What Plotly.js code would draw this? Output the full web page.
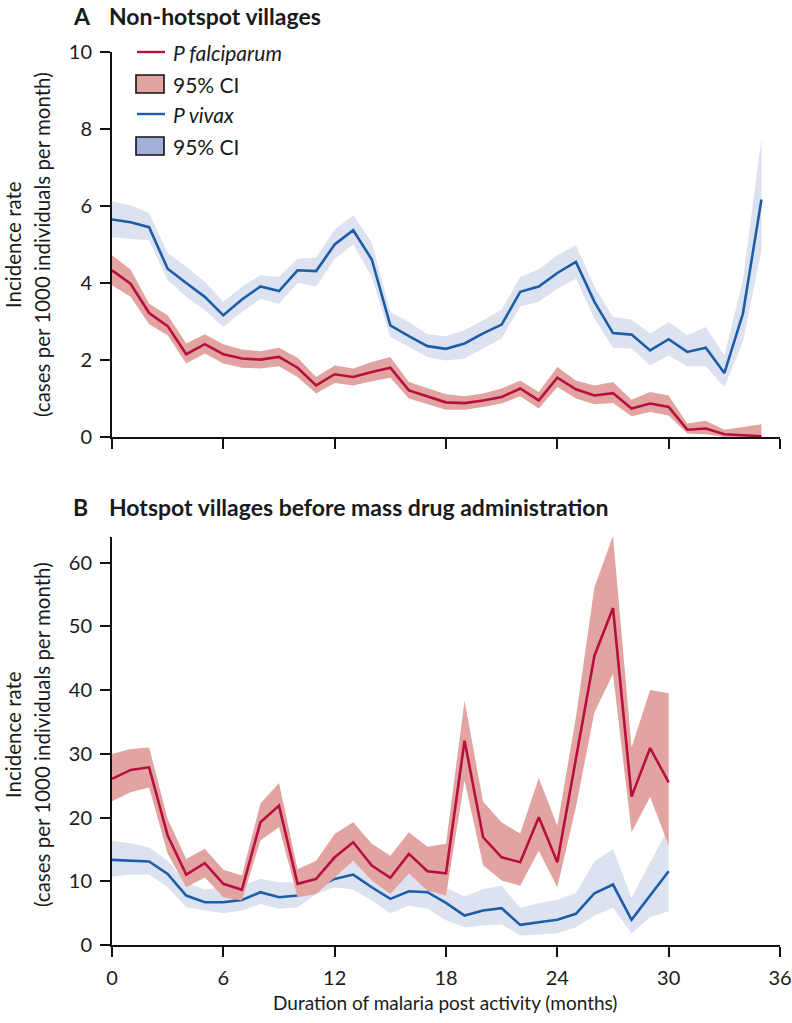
<!DOCTYPE html>
<html>
<head>
<meta charset="utf-8">
<script src="https://cdn.plot.ly/plotly-3.0.1.min.js"></script>
<style>html,body{margin:0;padding:0;background:#fff;}</style>
</head>
<body>
<div id="chart" style="width:792px;height:1023px;"></div>
<script>
// ---------- data ----------
const monthsA = [0,1,2,3,4,5,6,7,8,9,10,11,12,13,14,15,16,17,18,19,20,21,22,23,24,25,26,27,28,29,30,31,32,33,34,35];
const pfA    = [4.33,3.98,3.22,2.88,2.15,2.41,2.15,2.04,2.01,2.08,1.80,1.34,1.63,1.56,1.69,1.80,1.21,1.06,0.90,0.88,0.95,1.04,1.26,0.95,1.54,1.24,1.08,1.14,0.74,0.87,0.78,0.19,0.22,0.07,0.04,0.02];
const pfA_hi = [4.72,4.35,3.46,3.16,2.43,2.67,2.41,2.27,2.23,2.32,2.06,1.56,1.86,1.78,1.95,2.08,1.43,1.26,1.11,1.06,1.13,1.26,1.47,1.17,1.82,1.47,1.34,1.43,0.97,1.17,1.08,0.35,0.42,0.19,0.26,0.33];
const pfA_lo = [3.94,3.64,2.93,2.64,1.91,2.17,1.91,1.80,1.78,1.84,1.56,1.13,1.40,1.34,1.45,1.54,1.00,0.85,0.71,0.71,0.78,0.87,1.06,0.74,1.30,1.00,0.85,0.88,0.54,0.65,0.56,0.09,0.07,0,0,0];
const pvA    = [5.65,5.58,5.45,4.37,4.00,3.64,3.16,3.57,3.91,3.79,4.33,4.31,5.00,5.37,4.61,2.90,2.62,2.36,2.29,2.43,2.69,2.92,3.77,3.91,4.26,4.55,3.51,2.70,2.66,2.25,2.54,2.21,2.32,1.66,3.20,6.17];
const pvA_hi = [6.12,6.02,5.82,4.78,4.42,4.03,3.51,3.90,4.20,4.16,4.63,4.66,5.39,5.76,5.06,3.25,2.99,2.67,2.62,2.77,3.03,3.31,4.16,4.35,4.72,4.98,3.91,3.12,3.05,2.69,2.99,2.64,2.86,2.12,4.07,7.75];
const pvA_lo = [5.19,5.15,5.11,4.07,3.64,3.29,2.86,3.25,3.59,3.46,4.00,3.91,4.63,5.00,4.16,2.60,2.34,2.08,1.99,2.04,2.30,2.56,3.39,3.51,3.85,4.11,3.08,2.32,2.30,1.86,2.12,1.84,1.84,1.30,2.47,4.85];

const monthsB = [0,1,2,3,4,5,6,7,8,9,10,11,12,13,14,15,16,17,18,19,20,21,22,23,24,25,26,27,28,29,30];
const pfB    = [26.05,27.46,27.87,17.16,11.05,12.83,9.59,8.65,19.25,21.86,9.59,10.37,13.76,16.11,12.46,10.53,14.29,11.57,11.25,32.05,16.9,13.76,12.98,20.03,12.98,28.92,45.38,52.85,23.28,30.9,25.52];
const pfB_hi = [29.97,30.75,31.0,19.78,13.5,15.08,11.79,10.9,22.2,25.4,11.9,13.2,17.4,19.25,15.9,14.0,17.7,15.4,15.9,38.3,22.5,19.2,17.5,26.2,18.7,35.7,56.1,64.2,31.0,40.0,39.5];
const pfB_lo = [22.54,23.95,24.7,14.3,9.06,10.6,7.5,6.97,16.4,18.5,7.5,8.0,10.6,13.2,10.1,8.0,11.2,8.5,7.76,25.8,12.5,10.1,9.3,14.8,9.06,21.6,36.5,42.5,17.7,23.2,15.6];
const pvB    = [13.35,13.24,13.1,11.16,7.76,6.71,6.71,7.08,8.28,7.5,7.76,9.06,10.37,11.05,9.06,7.24,8.43,8.28,6.6,4.62,5.41,5.77,3.16,3.57,3.95,4.89,8.12,9.48,3.95,7.76,11.57];
const pvB_hi = [16.3,15.96,15.3,13.2,9.85,8.65,9.06,9.3,10.4,9.85,9.85,11.2,12.2,13.1,11.4,9.6,11.2,10.4,9.0,7.6,8.8,9.3,5.83,6.55,7.08,8.12,13.1,15.08,7.4,13.0,18.5];
const pvB_lo = [10.7,11.05,11.05,9.06,5.93,5.41,4.98,5.41,6.45,5.67,5.93,8.0,9.06,8.65,6.97,4.98,6.19,5.67,3.9,2.8,3.06,3.2,1.49,1.65,1.85,2.8,4.62,5.83,1.85,4.36,5.3];

const xTicks  = [0,6,12,18,24,30,36];
const yTicksA = [0,2,4,6,8,10];
const yTicksB = [0,10,20,30,40,50,60];

const panelTitles = ["Non-hotspot villages", "Hotspot villages before mass drug administration"];
const panelLetters = ["A", "B"];
const yTitle1 = "Incidence rate";
const yTitle2 = "(cases per 1000 individuals per month)";
const xTitle = "Duration of malaria post activity (months)";
const legendLabels = ["<i>P falciparum</i>", "95% CI", "<i>P vivax</i>", "95% CI"];

// ---------- styles ----------
const RED = '#b8103e', RED_BAND = '#e2a4a1';
const BLUE = '#1b5ea7', BLUE_BAND = 'rgba(162,176,216,0.36)', BLUE_KEY = '#a2b0d8';
const FONT = 'Lato, "Open Sans", sans-serif';
const TXT = '#1a1a1a';

function band(x, lo, hi, color, xa, ya) {
  return [
    {x: x, y: lo, xaxis: xa, yaxis: ya, mode: 'lines', line: {width: 0, color: color}, hoverinfo: 'skip', showlegend: false},
    {x: x, y: hi, xaxis: xa, yaxis: ya, mode: 'lines', line: {width: 0, color: color}, fill: 'tonexty', fillcolor: color, hoverinfo: 'skip', showlegend: false}
  ];
}
function line(x, y, color, xa, ya) {
  return {x: x, y: y, xaxis: xa, yaxis: ya, mode: 'lines', line: {width: 2.6, color: color}, showlegend: false};
}

const traces = [].concat(
  band(monthsA, pvA_lo, pvA_hi, BLUE_BAND, 'x', 'y'),
  [line(monthsA, pvA, BLUE, 'x', 'y')],
  band(monthsA, pfA_lo, pfA_hi, RED_BAND, 'x', 'y'),
  [line(monthsA, pfA, RED, 'x', 'y')],
  band(monthsB, pvB_lo, pvB_hi, BLUE_BAND, 'x2', 'y2'),
  [line(monthsB, pvB, BLUE, 'x2', 'y2')],
  band(monthsB, pfB_lo, pfB_hi, RED_BAND, 'x2', 'y2'),
  [line(monthsB, pfB, RED, 'x2', 'y2')]
);

// ---------- layout helpers (pixel -> paper) ----------
const W = 792, H = 1023, ML = 112, MR = 12, MT = 52, MB = 78;
const PW = W - ML - MR, PH = H - MT - MB;
const px = v => (v - ML) / PW;
const py = v => (H - MB - v) / PH;

const axisCommon = {
  showline: true, linewidth: 2, linecolor: '#111', ticks: 'outside', ticklen: 10, tickwidth: 2, tickcolor: '#111',
  showgrid: false, zeroline: false, tickfont: {family: FONT, size: 20, color: TXT}, ticklabelstandoff: 4
};

const layout = {
  width: W, height: H, margin: {l: ML, r: MR, t: MT, b: MB},
  paper_bgcolor: '#fff', plot_bgcolor: '#fff', showlegend: false,
  font: {family: FONT, color: TXT},
  xaxis: Object.assign({}, axisCommon, {domain: [0, 1], range: [0, 36], tickvals: xTicks, showticklabels: false, anchor: 'y'}),
  yaxis: Object.assign({}, axisCommon, {domain: [py(437), 1], range: [0, 10], tickvals: yTicksA, anchor: 'x'}),
  xaxis2: Object.assign({}, axisCommon, {domain: [0, 1], range: [0, 36], tickvals: xTicks, anchor: 'y2'}),
  yaxis2: Object.assign({}, axisCommon, {domain: [0, py(537)], range: [0, 64], tickvals: yTicksB, anchor: 'x2'}),
  shapes: [], annotations: []
};

// panel titles
const titleY = [16, 507];
for (let i = 0; i < 2; i++) {
  layout.annotations.push({xref: 'paper', yref: 'paper', x: px(71), y: py(titleY[i]), xanchor: 'left', yanchor: 'middle', showarrow: false,
    text: '<b>' + panelLetters[i] + '</b>', font: {family: FONT, size: 23, color: TXT}});
  layout.annotations.push({xref: 'paper', yref: 'paper', x: px(107), y: py(titleY[i]), xanchor: 'left', yanchor: 'middle', showarrow: false,
    text: '<b>' + panelTitles[i] + '</b>', font: {family: FONT, size: 23, color: TXT}});
}
// y axis titles
const yCenters = [245, 735];
for (let i = 0; i < 2; i++) {
  layout.annotations.push({xref: 'paper', yref: 'paper', x: px(13), y: py(yCenters[i]), xanchor: 'center', yanchor: 'middle', textangle: -90, showarrow: false,
    text: yTitle1, font: {family: FONT, size: 20.5, color: TXT}});
  layout.annotations.push({xref: 'paper', yref: 'paper', x: px(42), y: py(yCenters[i]), xanchor: 'center', yanchor: 'middle', textangle: -90, showarrow: false,
    text: yTitle2, font: {family: FONT, size: 20.5, color: TXT}});
}
// x axis title
layout.annotations.push({xref: 'paper', yref: 'paper', x: px(445), y: py(1002), xanchor: 'center', yanchor: 'middle', showarrow: false,
  text: xTitle, font: {family: FONT, size: 19, color: TXT}});

// custom legend (panel A)
const legY = [52, 84, 114, 146];
layout.shapes.push({type: 'line', xref: 'paper', yref: 'paper', x0: px(137), x1: px(165), y0: py(legY[0]), y1: py(legY[0]), line: {color: RED, width: 2.4}});
layout.shapes.push({type: 'rect', xref: 'paper', yref: 'paper', x0: px(136), x1: px(164), y0: py(75), y1: py(93), fillcolor: RED_BAND, line: {color: '#111', width: 1.6}});
layout.shapes.push({type: 'line', xref: 'paper', yref: 'paper', x0: px(137), x1: px(165), y0: py(legY[2]), y1: py(legY[2]), line: {color: BLUE, width: 2.4}});
layout.shapes.push({type: 'rect', xref: 'paper', yref: 'paper', x0: px(136), x1: px(164), y0: py(137), y1: py(155), fillcolor: BLUE_KEY, line: {color: '#111', width: 1.6}});
for (let i = 0; i < 4; i++) {
  layout.annotations.push({xref: 'paper', yref: 'paper', x: px(171), y: py(legY[i]), xanchor: 'left', yanchor: 'middle', showarrow: false,
    text: legendLabels[i], font: {family: FONT, size: 21, color: TXT}});
}

Plotly.newPlot('chart', traces, layout, {staticPlot: true, displayModeBar: false});
</script>
</body>
</html>
